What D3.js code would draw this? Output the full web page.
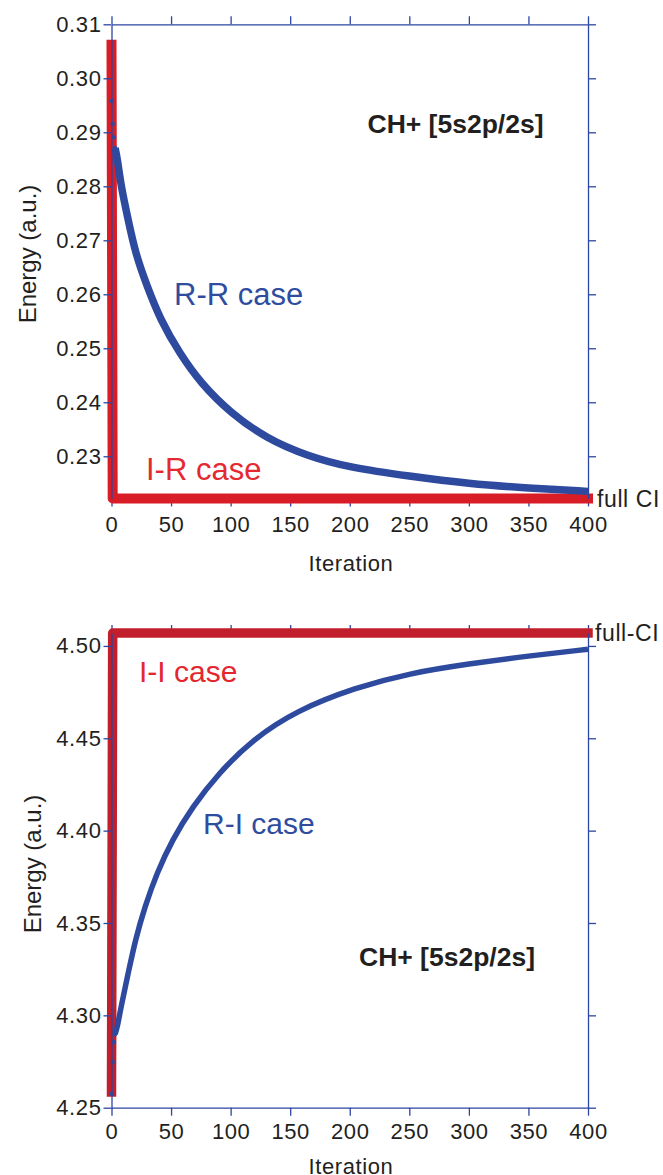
<!DOCTYPE html>
<html>
<head>
<meta charset="utf-8">
<script src="https://cdn.jsdelivr.net/npm/d3@7/dist/d3.min.js"></script>
<style>
  body { margin: 0; background: #fff; }
  svg { display: block; font-family: "Liberation Sans", Arial, Helvetica, sans-serif; }
</style>
</head>
<body>
<svg id="chart" width="663" height="1175"></svg>
<script>
// ticks
const iterTicks = [0, 50, 100, 150, 200, 250, 300, 350, 400];
const topEnergyTicks = [0.23, 0.24, 0.25, 0.26, 0.27, 0.28, 0.29, 0.30, 0.31];
const botEnergyTicks = [4.25, 4.30, 4.35, 4.40, 4.45, 4.50];

// top panel: R-R case (blue) and I-R case (red)
const rrIter = [0, 1, 2, 3, 5, 8, 14, 20, 30, 41, 57, 75, 100, 130, 165, 200, 250, 300, 350, 400];
const rrEnergy = [0.2958, 0.2916, 0.2891, 0.2871, 0.2850, 0.2800, 0.2738, 0.2676, 0.2614, 0.2553,
  0.2491, 0.2435, 0.2380, 0.2333, 0.2300, 0.2279, 0.2263, 0.2249, 0.2241, 0.2235];
const irIter = [0, 1, 400];
const irEnergy = [0.3062, 0.2222, 0.2222];
const topFullCI = 0.2222;

// bottom panel: R-I case (blue) and I-I case (red)
const riIter = [0, 1, 2, 3, 5, 8, 14, 20, 28, 38, 51, 68, 90, 118, 155, 205, 250, 300, 350, 400];
const riEnergy = [4.2576, 4.2748, 4.2855, 4.2898, 4.2938, 4.3047, 4.3228, 4.3408, 4.3588, 4.3769,
  4.3950, 4.4130, 4.4311, 4.4491, 4.4650, 4.4775, 4.4852, 4.4903, 4.4946, 4.4982];
const iiIter = [0, 1, 400];
const iiEnergy = [4.2585, 4.507, 4.507];
const botFullCI = 4.507;

const axisBlue = '#2c46a3';
const lineBlue = '#2e4a9e';
const ink = '#231f20';

const svg = d3.select('#chart');

function zip(xs, ys) {
  return xs.map(function (d, i) { return [d, ys[i]]; });
}

function drawPanel(opt) {
  const x = d3.scaleLinear().domain([0, 400]).range([111.5, 588]);
  const y = d3.scaleLinear().domain(opt.yDomain).range(opt.yRange);
  const g = svg.append('g');

  // horizontal frame axes go under the data
  const gBottom = g.append('g')
    .attr('transform', 'translate(0,' + y.range()[0] + ')')
    .call(d3.axisBottom(x).tickValues(iterTicks).tickSize(8).tickSizeOuter(0).tickPadding(opt.xPad));
  const gTop = g.append('g')
    .attr('transform', 'translate(0,' + y.range()[1] + ')')
    .call(d3.axisTop(x).tickValues(iterTicks).tickSize(8).tickSizeOuter(0).tickFormat(''));

  const line = d3.line()
    .x(function (d) { return x(d[0]); })
    .y(function (d) { return y(d[1]); });

  // red: initial-guess run
  g.append('path')
    .datum(zip(opt.redIter, opt.redEnergy))
    .attr('fill', 'none')
    .attr('stroke', opt.red)
    .attr('stroke-width', opt.redWidth)
    .attr('stroke-linejoin', 'round')
    .attr('stroke-linecap', 'square')
    .attr('d', line);

  // blue: first few iterations show as separate dots
  const pts = zip(opt.blueIter, opt.blueEnergy);
  const smooth = d3.line()
    .x(function (d) { return x(d[0]); })
    .y(function (d) { return y(d[1]); })
    .curve(d3.curveBasis);
  g.append('path')
    .datum(pts.slice(3))
    .attr('fill', 'none')
    .attr('stroke', lineBlue)
    .attr('stroke-width', opt.blueWidth)
    .attr('stroke-linecap', 'butt')
    .attr('d', smooth);
  g.selectAll('circle.dot')
    .data(pts.slice(0, 4))
    .enter()
    .append('circle')
    .attr('class', 'dot')
    .attr('cx', function (d) { return x(d[0]); })
    .attr('cy', function (d) { return y(d[1]); })
    .attr('r', 2.2)
    .attr('fill', lineBlue);

  // vertical axes on top
  const gLeft = g.append('g')
    .attr('transform', 'translate(' + x.range()[0] + ',0)')
    .call(d3.axisLeft(y).tickValues(opt.yTicks).tickSize(8).tickSizeOuter(0).tickPadding(2)
      .tickFormat(d3.format('.2f')));
  const gRight = g.append('g')
    .attr('transform', 'translate(' + x.range()[1] + ',0)')
    .call(d3.axisRight(y).tickValues(opt.yTicks).tickSize(8).tickSizeOuter(0).tickFormat(''));

  [gBottom, gTop, gLeft, gRight].forEach(function (a) {
    a.selectAll('path.domain').attr('stroke', axisBlue).attr('stroke-width', 1.3);
    a.selectAll('.tick line').attr('stroke', axisBlue).attr('stroke-width', 1.3);
    a.selectAll('.tick text')
      .attr('fill', ink)
      .attr('font-size', '22px')
      .attr('letter-spacing', '0.6px')
      .attr('font-family', '"Liberation Sans", Arial, sans-serif');
  });

  // axis titles
  g.append('text')
    .attr('x', 351)
    .attr('y', opt.xTitleY)
    .attr('text-anchor', 'middle')
    .attr('font-size', '22px')
    .attr('letter-spacing', '0.6px')
    .attr('fill', ink)
    .text('Iteration');
  g.append('text')
    .attr('transform', 'translate(' + opt.yTitleX + ',' + opt.yTitleY + ') rotate(-90)')
    .attr('text-anchor', 'middle')
    .attr('font-size', '24px')
    .attr('fill', ink)
    .text('Energy (a.u.)');

  // full CI marker label
  g.append('text')
    .attr('x', opt.fullX)
    .attr('y', y(opt.fullCI))
    .attr('dy', '0.36em')
    .attr('font-size', '23px')
    .attr('letter-spacing', '0.6px')
    .attr('fill', ink)
    .text(opt.fullText);

  // annotations
  g.append('text')
    .attr('x', opt.titleX)
    .attr('y', opt.titleY)
    .attr('font-size', '26.5px')
    .attr('font-weight', 'bold')
    .attr('fill', ink)
    .text('CH+ [5s2p/2s]');
  opt.labels.forEach(function (l) {
    g.append('text')
      .attr('x', l.x)
      .attr('y', l.y)
      .attr('font-size', l.size + 'px')
      .attr('fill', l.color)
      .text(l.text);
  });
}

drawPanel({
  yDomain: [topFullCI, 0.31], yRange: [498.4, 24.3], yTicks: topEnergyTicks,
  xPad: 10, xTitleY: 571, yTitleX: 35.5, yTitleY: 254,
  redIter: irIter, redEnergy: irEnergy, red: '#d81d26', redWidth: 10,
  blueIter: rrIter, blueEnergy: rrEnergy, blueWidth: 7.5,
  fullCI: topFullCI, fullX: 597, fullText: 'full CI',
  titleX: 367.5, titleY: 133.3,
  labels: [
    { text: 'R-R case', x: 174, y: 305, size: 31, color: '#2f4c9f' },
    { text: 'I-R case', x: 146, y: 480, size: 31, color: '#e42a31' }
  ]
});

drawPanel({
  yDomain: [4.25, botFullCI], yRange: [1107.7, 633], yTicks: botEnergyTicks,
  xPad: 8, xTitleY: 1174, yTitleX: 41, yTitleY: 864,
  redIter: iiIter, redEnergy: iiEnergy, red: '#c11f2b', redWidth: 9.5,
  blueIter: riIter, blueEnergy: riEnergy, blueWidth: 5.5,
  fullCI: botFullCI, fullX: 595, fullText: 'full-CI',
  titleX: 359, titleY: 966,
  labels: [
    { text: 'R-I case', x: 203, y: 834, size: 30, color: '#2f4c9f' },
    { text: 'I-I case', x: 139, y: 682, size: 30, color: '#e4262f' }
  ]
});
</script>
</body>
</html>
